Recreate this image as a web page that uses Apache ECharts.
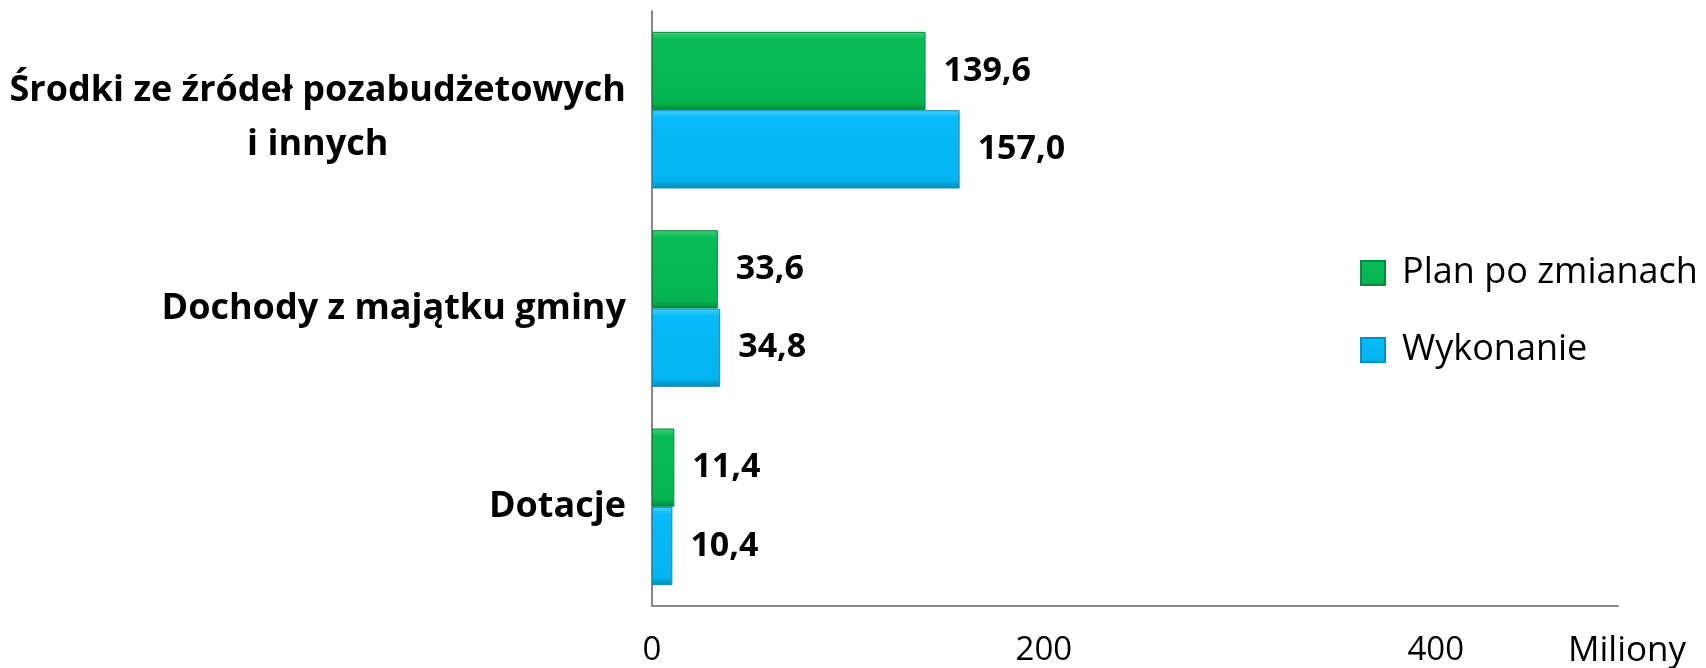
<!DOCTYPE html>
<html>
<head>
<meta charset="utf-8">
<script src="https://cdn.jsdelivr.net/npm/echarts@6/dist/echarts.min.js"></script>
<style>
html,body{margin:0;padding:0;background:#fff;}
#c{width:1706px;height:668px;}
</style>
</head>
<body>
<div id="c"></div>
<script>
const categories = ['Dotacje', 'Dochody z majątku gminy', 'Środki ze źródeł pozabudżetowych\ni innych'];
const seriesNames = ['Plan po zmianach', 'Wykonanie'];
const planValues = [11.4, 33.6, 139.6];
const wykonanieValues = [10.4, 34.8, 157.0];
const axisTicks = [0, 200, 400];
const unitLabel = 'Miliony';

const chart = echarts.init(document.getElementById('c'));
const fmt = v => v.toFixed(1).replace('.', ',');
const labelStyle = {
  show: true, position: 'right', distance: 18,
  fontFamily: 'Open Sans', fontWeight: 'bold', fontSize: 34, color: '#000',
  formatter: p => fmt(p.value)
};
const catFont = { fontFamily: 'Open Sans', fontWeight: 'bold', fontSize: 36, lineHeight: 54, color: '#000', align: 'center' };
chart.setOption({
  animation: false,
  grid: { left: 652, right: 88, top: 11, bottom: 62, containLabel: false },
  legend: {
    data: seriesNames, orient: 'vertical', left: 1355, top: 250,
    icon: 'rect', itemWidth: 24, itemHeight: 24, itemGap: 41,
    textStyle: { fontFamily: 'Open Sans', fontSize: 36, color: '#000', padding: [0, 0, 0, 12] }
  },
  xAxis: {
    type: 'value', min: 0, max: 493, interval: 200,
    axisLine: { show: true, lineStyle: { color: '#888', width: 2 } },
    axisTick: { show: false }, splitLine: { show: false },
    axisLabel: {
      margin: 28, fontFamily: 'Open Sans', fontSize: 33, color: '#000',
      showMaxLabel: false,
      formatter: v => axisTicks.includes(v) ? String(v) : ''
    }
  },
  yAxis: {
    type: 'category',
    data: categories.map(c => c.includes('\n') ? { value: c, textStyle: { padding: [15, 0, 0, 0] } } : c),
    axisLine: { show: true, lineStyle: { color: '#888', width: 2 } },
    axisTick: { show: false },
    axisLabel: {
      margin: 26, color: '#000',
      formatter: v => v.split('\n').map(s => '{c|' + s + '}').join('\n'),
      rich: { c: catFont }
    }
  },
  graphic: [{
    type: 'text', x: 1568, y: 651,
    style: { text: unitLabel, fontFamily: 'Open Sans', fontSize: 35, fill: '#000', verticalAlign: 'middle' }
  }],
  series: [
    {
      name: 'Plan po zmianach', type: 'bar', data: planValues, barGap: '0%', barCategoryGap: '21%',
      itemStyle: {
        color: new echarts.graphic.LinearGradient(0, 0, 0, 1, [
          { offset: 0, color: '#3ccf78' }, { offset: 0.1, color: '#07bc55' },
          { offset: 0.9, color: '#05b551' }, { offset: 1, color: '#04873c' }]),
        borderColor: '#0a8a40', borderWidth: 1
      },
      label: labelStyle
    },
    {
      name: 'Wykonanie', type: 'bar', data: wykonanieValues, barGap: '0%', barCategoryGap: '21%',
      itemStyle: {
        color: new echarts.graphic.LinearGradient(0, 0, 0, 1, [
          { offset: 0, color: '#3fd0ff' }, { offset: 0.1, color: '#06bbf8' },
          { offset: 0.9, color: '#03b4f0' }, { offset: 1, color: '#0389b8' }]),
        borderColor: '#0a8fc0', borderWidth: 1
      },
      label: labelStyle
    }
  ]
});
</script>
</body>
</html>
